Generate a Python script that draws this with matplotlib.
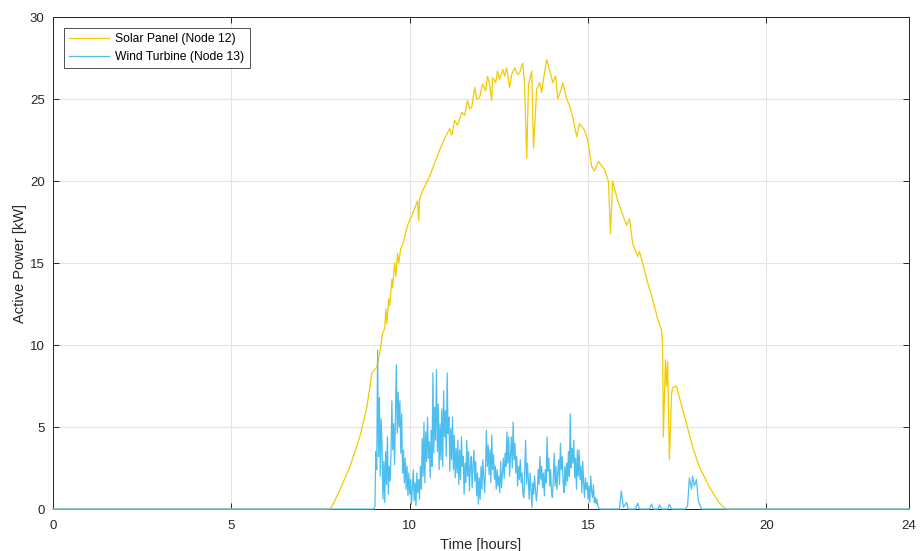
import matplotlib
matplotlib.use("Agg")
import matplotlib.pyplot as plt
import numpy as np

plt.rcParams['font.family'] = ['Liberation Sans', 'DejaVu Sans']

# Solar panel (Node 12) active power [kW] vs time [hours]
solar_t = [0.0, 7.76, 7.84, 8.04, 8.32, 8.60, 8.80, 8.94, 9.08, 9.16, 9.24, 9.30, 9.33, 9.36,
           9.41, 9.44, 9.50, 9.52, 9.58, 9.61, 9.66, 9.69, 9.75, 9.80, 9.94, 10.08, 10.22, 10.25,
           10.28, 10.36, 10.56, 10.70, 10.84, 10.98, 11.12, 11.18, 11.26, 11.34, 11.46, 11.54,
           11.62, 11.68, 11.74, 11.82, 11.88, 11.96, 12.04, 12.13, 12.18, 12.24, 12.30, 12.32,
           12.41, 12.46, 12.52, 12.61, 12.66, 12.72, 12.80, 12.86, 12.94, 13.03, 13.08, 13.17,
           13.22, 13.28, 13.33, 13.42, 13.47, 13.56, 13.64, 13.70, 13.75, 13.84, 13.92, 14.01,
           14.09, 14.15, 14.26, 14.29, 14.40, 14.48, 14.57, 14.68, 14.76, 14.90, 14.99, 15.10,
           15.18, 15.29, 15.46, 15.57, 15.63, 15.69, 15.83, 16.08, 16.16, 16.25, 16.39, 16.44,
           16.53, 16.67, 16.81, 16.95, 17.06, 17.09, 17.11, 17.17, 17.20, 17.23, 17.28, 17.34,
           17.37, 17.48, 17.56, 17.76, 17.93, 18.12, 18.40, 18.68, 18.82, 18.90, 24.0]
solar_p = [0.0, 0.0, 0.24, 1.16, 2.56, 4.39, 6.22, 8.29, 8.66, 9.51, 10.73, 11.0, 12.2, 11.3,
           12.8, 12.4, 14.0, 13.5, 15.0, 14.2, 15.6, 15.0, 15.9, 16.1, 17.3, 18.0, 18.8, 17.6,
           18.9, 19.4, 20.3, 21.1, 21.9, 22.6, 23.2, 22.8, 23.7, 23.4, 24.2, 24.0,
           24.9, 24.4, 24.5, 25.7, 25.0, 25.1, 25.9, 25.5, 26.4, 25.9, 24.9, 26.3,
           26.0, 26.7, 26.2, 26.8, 26.4, 26.9, 25.7, 26.5, 26.9, 26.5, 26.6, 27.2,
           25.9, 21.4, 25.9, 26.7, 22.0, 25.6, 26.0, 25.4, 26.2, 27.4, 26.8, 26.0,
           26.4, 25.0, 25.7, 26.0, 25.0, 24.6, 23.9, 22.7, 23.5, 23.1, 22.5, 20.9,
           20.6, 21.2, 20.7, 20.0, 16.8, 20.0, 18.8, 17.3, 17.7, 16.2, 15.4, 15.7,
           15.0, 13.8, 12.8, 11.6, 10.9, 10.2, 4.4, 9.1, 7.5, 9.0, 3.0, 7.0,
           7.4, 7.5, 6.8, 5.2, 3.8, 2.56, 1.34, 0.37, 0.06, 0.0, 0.0]

# Wind turbine (Node 13): dense stretch sampled every 0.025 h from 9.0 h
wind_dense_start = 9.0
wind_dense_step = 0.025
wind_dense_p = [
    0.0, 0.2, 3.5, 2.4, 9.7, 3.2, 6.8, 2.0, 5.5, 3.8,
    0.6, 2.9, 0.4, 3.5, 1.5, 4.4, 0.9, 2.6, 1.7, 3.3,
    6.6, 3.6, 5.2, 2.7, 5.9, 8.8, 4.6, 7.1, 5.0, 6.6,
    3.4, 5.8, 2.2, 3.6, 1.6, 3.1, 1.2, 2.6, 0.8, 2.2,
    0.9, 1.8, 0.3, 1.4, 2.4, 0.5, 1.6, 0.2, 2.2, 1.0,
    1.8, 0.6, 2.6, 1.2, 4.3, 2.0, 5.3, 1.6, 4.7, 2.9,
    5.6, 3.1, 4.1, 1.9, 4.8, 2.6, 8.3, 3.4, 6.2, 4.2,
    8.5, 3.5, 6.4, 2.4, 5.2, 3.0, 6.1, 2.6, 7.2, 4.4,
    6.0, 3.2, 8.3, 4.6, 5.6, 2.3, 4.9, 3.0, 5.6, 2.4,
    4.5, 1.9, 3.7, 2.2, 4.2, 1.5, 3.6, 1.8, 4.4, 2.6,
    3.2, 0.9, 2.8, 1.6, 4.2, 2.0, 3.5, 1.1, 2.6, 3.2,
    1.3, 2.7, 3.6, 1.7, 2.9, 0.8, 2.2, 0.3, 1.9, 0.6,
    2.6, 1.2, 3.0, 2.0, 1.0, 2.4, 4.8, 2.6, 3.9, 2.1,
    3.6, 1.6, 4.5, 2.4, 3.3, 1.8, 2.6, 1.2, 2.4, 1.4,
    2.0, 1.0, 2.9, 1.3, 2.2, 3.1, 1.9, 3.4, 2.6, 4.7,
    2.8, 4.4, 2.0, 3.2, 4.4, 2.5, 5.3, 3.0, 4.0, 2.2,
    3.2, 1.4, 2.6, 1.8, 3.0, 1.6, 2.2, 0.9, 0.7, 2.4,
    4.2, 1.5, 2.8, 1.8, 0.6, 2.2, 1.3, 0.1, 1.6, 0.9,
    2.0, 1.2, 0.5, 1.0, 2.4, 1.5, 3.2, 1.8, 2.6, 1.3,
    2.2, 0.8, 2.4, 1.6, 4.4, 2.3, 3.1, 1.4, 2.4, 1.0,
    0.7, 1.9, 3.4, 1.4, 2.6, 1.2, 2.2, 3.0, 1.5, 4.0,
    2.4, 3.2, 1.6, 1.0, 2.6, 1.4, 2.8, 1.7, 3.5, 2.0,
    5.8, 2.5, 3.7, 2.8, 4.2, 1.9, 3.1, 1.2, 3.6, 2.0,
    3.6, 1.8, 2.6, 1.0, 2.9, 1.6, 0.7, 1.9, 1.2, 1.6,
    0.6, 1.4, 0.4, 2.0, 1.1, 0.7, 1.5, 0.4, 0.7, 0.3,
    0.6, 0.2, 0.05, 0.0, 0.0, 0.0, 0.0]
# Wind turbine (Node 13): sparse tail after the dense stretch
wind_tail_t = [15.88, 15.93, 15.99, 16.08, 16.13, 16.33, 16.39, 16.44, 16.72, 16.78,
               16.83, 16.97, 17.00, 17.06, 17.23, 17.28, 17.34, 17.73, 17.79, 17.84,
               17.90, 17.93, 17.98, 18.04, 18.09, 18.18, 24.0]
wind_tail_p = [0.0, 1.1, 0.1, 0.4, 0.0, 0.0, 0.35, 0.0, 0.0, 0.3,
               0.0, 0.0, 0.25, 0.0, 0.0, 0.3, 0.0, 0.0, 0.2, 1.9,
               1.2, 2.0, 1.4, 1.8, 0.5, 0.0, 0.0]

x_ticks = [0, 5, 10, 15, 20, 24]
y_ticks = [0, 5, 10, 15, 20, 25, 30]
labels = ['Solar Panel (Node 12)', 'Wind Turbine (Node 13)']

wind_dense_t = wind_dense_start + wind_dense_step * np.arange(len(wind_dense_p))
wind_t = np.concatenate([[0.0], wind_dense_t, wind_tail_t])
wind_p = np.concatenate([[0.0], wind_dense_p, wind_tail_p])

fig = plt.figure(figsize=(9.22, 5.51), dpi=100)
ax = fig.add_axes([0.0575, 0.0762, 0.9285, 0.8929])

ax.plot(solar_t, solar_p, color='#F2CC00', lw=0.9, label=labels[0], zorder=3, clip_on=False)
ax.plot(wind_t, wind_p, color='#4DBEEE', lw=0.9, label=labels[1], zorder=3, clip_on=False)

ax.set_xlim(0, 24)
ax.set_ylim(0, 30)
ax.set_xticks(x_ticks)
ax.set_yticks(y_ticks)
ax.grid(True, color='#E3E3E3', lw=0.8)
ax.set_axisbelow(True)
for s in ax.spines.values():
    s.set_color('#262626')
    s.set_linewidth(0.7)
ax.tick_params(direction='in', top=True, right=True, length=4, width=0.7,
               colors='#262626', labelsize=9.5, labelcolor='#262626')
ax.tick_params(axis='x', pad=8)
ax.tick_params(axis='y', pad=6)
ax.set_xlabel('Time [hours]', fontsize=10.5, color='#262626', labelpad=4)
ax.set_ylabel('Active Power [kW]', fontsize=10.5, color='#262626', labelpad=2)

leg = ax.legend(loc='upper left', fontsize=8.7, frameon=True, fancybox=False,
                edgecolor='#262626', handlelength=3.3, borderaxespad=0.9,
                borderpad=0.45, labelspacing=0.45, handletextpad=0.5)
leg.get_frame().set_linewidth(0.7)

fig.savefig('out.png', dpi=100)
